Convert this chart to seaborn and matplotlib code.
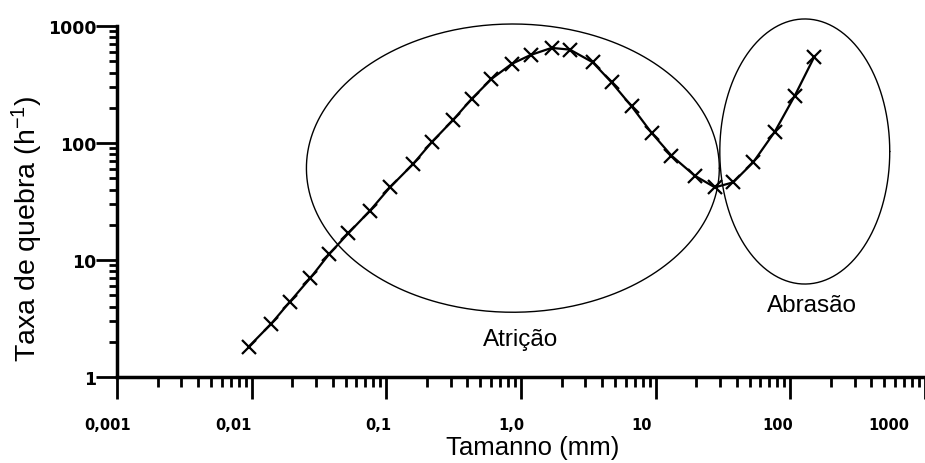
import numpy as np
import pandas as pd
import seaborn as sns
import matplotlib
matplotlib.use("Agg")
import matplotlib.pyplot as plt
from matplotlib.transforms import ScaledTranslation, blended_transform_factory

# ---- data ----
size_mm = [0.0095, 0.0139, 0.0192, 0.0271, 0.0375, 0.0521, 0.0755, 0.1064,
           0.158, 0.219, 0.314, 0.430, 0.603, 0.851, 1.18, 1.69, 2.31, 3.40,
           4.70, 6.62, 9.33, 13.1, 19.5, 27.5, 37.6, 53.0, 76.7, 108, 150]
rate = [1.82, 2.84, 4.4, 6.97, 11.2, 16.9, 26.4, 41.8,
        66.2, 102.6, 158, 238, 352, 473, 565, 649, 627, 490,
        330, 206, 122, 78, 52.6, 41.8, 46.1, 68.4, 125, 254, 540]
x_ticks = [0.001, 0.01, 0.1, 1, 10, 100, 1000]
x_tick_labels = ["0,001", "0,01", "0,1", "1,0", "10", "100", "1000"]
y_ticks = [1, 10, 100, 1000]
y_tick_labels = ["1", "10", "100", "1000"]
region_labels = ["Atrição", "Abrasão"]

df = pd.DataFrame({"size": size_mm, "rate": rate})

sns.set_style("ticks")
plt.rcParams["font.family"] = ["Liberation Sans", "DejaVu Sans"]
plt.rcParams["mathtext.default"] = "regular"
plt.rcParams["text.color"] = "black"
plt.rcParams["axes.labelcolor"] = "black"
plt.rcParams["xtick.color"] = "black"
plt.rcParams["ytick.color"] = "black"

fig = plt.figure(figsize=(9.25, 4.64), dpi=100)
ax = fig.add_axes([0.1265, 0.185, 0.8735, 0.757])

sns.lineplot(data=df, x="size", y="rate", ax=ax, color="black", lw=1.6,
             marker="x", markersize=10, markeredgewidth=1.6,
             markeredgecolor="black", sort=False)

ax.set_xscale("log")
ax.set_yscale("log")
ax.set_xlim(0.001, 1000)
ax.set_ylim(1, 1000)

# ellipses (in log space)
def ellipse(cx, cy, wdec, hdec):
    t = np.linspace(0, 2 * np.pi, 400)
    lx = np.log10(cx) + wdec * np.cos(t)
    ly = np.log10(cy) + hdec * np.sin(t)
    ax.plot(10 ** lx, 10 ** ly, color="black", lw=1.0, clip_on=False)

ellipse(0.87, 61, 1.533, 1.231)
ellipse(128, 84.6, 0.631, 1.132)

ax.text(0.499, 0.108, region_labels[0], transform=ax.transAxes,
        ha="center", va="center", fontsize=17.5, color="black")
ax.text(0.860, 0.205, region_labels[1], transform=ax.transAxes,
        ha="center", va="center", fontsize=17.5, color="black")

# x ticks with hand-placed labels (shifted left like the original)
ax.set_xticks(x_ticks)
ax.tick_params(axis="x", labelbottom=False)
offsets = [-9, -18, -8, -10, -14, -13, -36]
base = blended_transform_factory(ax.transData, ax.transAxes)
for xv, lab, dx in zip(x_ticks, x_tick_labels, offsets):
    tr = base + ScaledTranslation(dx / 100, 0, fig.dpi_scale_trans)
    ax.text(xv, -0.134, lab, transform=tr, ha="center", va="center",
            fontsize=10.5, fontweight="bold", family="DejaVu Sans",
            color="black", clip_on=False)

ax.set_yticks(y_ticks)
ax.set_yticklabels(y_tick_labels, fontweight="bold", fontsize=12.5,
                   family="DejaVu Sans", color="black")

for s in ["top", "right"]:
    ax.spines[s].set_visible(False)
for s in ["left", "bottom"]:
    ax.spines[s].set_linewidth(2.5)
    ax.spines[s].set_color("black")

ax.tick_params(axis="x", which="major", length=16, width=2, colors="black")
ax.tick_params(axis="x", which="minor", length=7, width=2, colors="black")
ax.tick_params(axis="y", which="major", length=15, width=2, pad=0, colors="black")
ax.tick_params(axis="y", which="minor", length=6, width=2, colors="black")

ax.set_xlabel("Tamanno (mm)", fontsize=18.5, color="black")
ax.set_ylabel("Taxa de quebra (h$^{-1}$)", fontsize=20.5, color="black")
ax.xaxis.label.set_va("center")
ax.yaxis.label.set_va("center")
ax.xaxis.set_label_coords(0.514, -0.199)
ax.yaxis.set_label_coords(-0.111, 0.424)

fig.savefig("out.png", dpi=100)
